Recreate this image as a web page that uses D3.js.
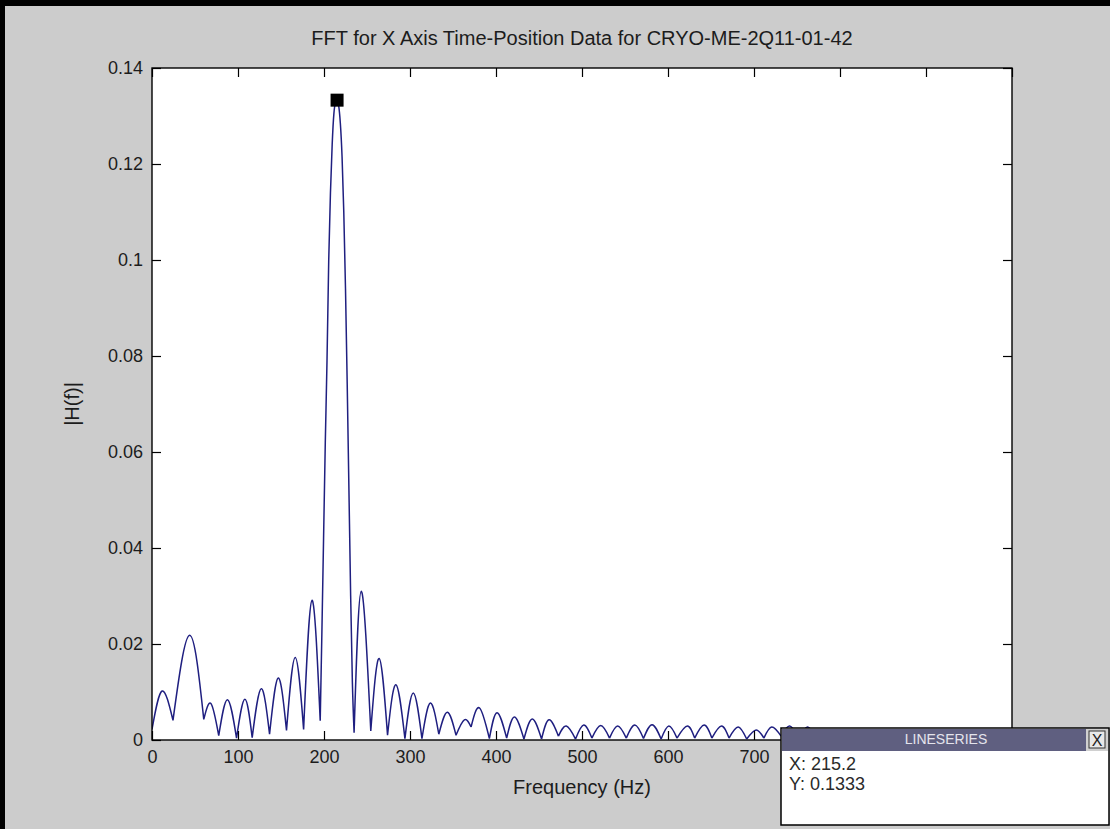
<!DOCTYPE html>
<html>
<head>
<meta charset="utf-8">
<script src="https://cdn.jsdelivr.net/npm/d3@7/dist/d3.min.js"></script>
<style>
  html, body { margin: 0; padding: 0; background: #cccccc; overflow: hidden; }
  svg { display: block; }
  text { font-family: "Liberation Sans", Arial, Helvetica, sans-serif; }
</style>
</head>
<body>
<svg id="fig" width="1110" height="829"></svg>
<script>
// Spectrum magnitude |H(f)| — local extrema of each lobe plus the main lobe outline
const freqHz = [
  0, 11.7, 24.4, 43.8, 60.2, 68.5, 77.6, 87.8, 98.3, 108.0,
  116.5, 127.0, 136.7, 146.8, 156.4, 166.5, 176.3, 186.0, 195.6,
  197.5, 199.5, 201.5, 203.5, 205.5, 207.5, 209.5, 211.5, 213.5, 215.2,
  217.0, 219.0, 221.0, 223.0, 225.0, 227.0, 229.0, 231.0, 233.0, 235.0,
  243.3, 254.4, 264.1, 273.9, 283.6, 294.1, 303.8, 313.9, 323.6, 333.5,
  343.5, 353.5, 363.2, 371.0, 380.7, 392.3, 401.2, 412.4, 421.5, 432.5,
  442.2, 453.0, 461.6, 472.6, 481.7, 492.5, 502.0, 511.5, 521.8, 532.0,
  541.5, 551.5, 561.5, 571.5, 581.5, 592.0, 601.0, 610.5, 622.5, 631.0,
  642.0, 651.0, 662.2, 671.0, 681.6, 691.5, 702.5, 711.5, 720.6, 731.5,
  741.5, 752.0, 762.3, 772.0, 781.5, 791.5, 801.5, 811.5, 821.0, 831.0,
  841.0, 851.0, 860.5, 870.5, 880.5, 890.5, 900.0, 910.0, 920.0, 930.0,
  939.5, 949.5, 959.5, 969.5, 979.0, 989.0, 998.0
];
const magnitude = [
  0.0022, 0.0102, 0.0041, 0.0218, 0.0043, 0.0076, 0.0009, 0.0084, 0.0004, 0.0085,
  0.0005, 0.0107, 0.0012, 0.0129, 0.0020, 0.0172, 0.0022, 0.0291, 0.0040,
  0.0220, 0.0420, 0.0620, 0.0790, 0.1000, 0.1140, 0.1240, 0.1305, 0.1330, 0.1333,
  0.1322, 0.1285, 0.1215, 0.1100, 0.0940, 0.0740, 0.0520, 0.0300, 0.0120, 0.0015,
  0.0310, 0.0019, 0.0170, 0.0010, 0.0115, 0.0003, 0.0098, 0.0003, 0.0077, 0.0012,
  0.0058, 0.0010, 0.0042, 0.0027, 0.0067, 0.0003, 0.0057, 0.0004, 0.0048, 0.0002,
  0.0044, 0.0002, 0.0042, 0.0008, 0.0029, 0.0002, 0.0031, 0.0004, 0.0030, 0.0004,
  0.0029, 0.0004, 0.0031, 0.0003, 0.0032, 0.0002, 0.0029, 0.0004, 0.0029, 0.0004,
  0.0031, 0.0004, 0.0029, 0.0004, 0.0027, 0.0002, 0.0021, 0.0004, 0.0027, 0.0008,
  0.0029, 0.0004, 0.0027, 0.0005, 0.0021, 0.0004, 0.0020, 0.0003, 0.0019, 0.0003,
  0.0018, 0.0003, 0.0018, 0.0003, 0.0017, 0.0003, 0.0016, 0.0003, 0.0016, 0.0003,
  0.0015, 0.0003, 0.0015, 0.0003, 0.0014, 0.0003, 0.0013
];

// x ticks run to 1000 Hz; the last three sit under the data cursor panel and carry no label
const xTickValues = [0, 100, 200, 300, 400, 500, 600, 700, 800, 900, 1000];
const xTickLabels = ["0", "100", "200", "300", "400", "500", "600", "700", "", "", ""];
const yTickValues = [0, 0.02, 0.04, 0.06, 0.08, 0.1, 0.12, 0.14];
const yTickLabels = ["0", "0.02", "0.04", "0.06", "0.08", "0.1", "0.12", "0.14"];

const chartTitle = "FFT for X Axis Time-Position Data for CRYO-ME-2Q11-01-42";
const xAxisLabel = "Frequency (Hz)";
const yAxisLabel = "|H(f)|";
const tipHeader = "LINESERIES";

// ---- layout ----
const W = 1110, H = 829;
const plot = { left: 152, top: 68, right: 1012, bottom: 740 };
const textColor = "#1c1c1c";
const lineColor = "#1f1f80";

const svg = d3.select("#fig");

// figure background and window frame edges
svg.append("rect").attr("width", W).attr("height", H).attr("fill", "#cccccc");
svg.append("rect").attr("x", 0).attr("y", 0).attr("width", W).attr("height", 6).attr("fill", "#000");
svg.append("rect").attr("x", 0).attr("y", 0).attr("width", 5).attr("height", H).attr("fill", "#000");

const x = d3.scaleLinear().domain([0, 1000]).range([plot.left, plot.right]);
const y = d3.scaleLinear().domain([0, 0.14]).range([plot.bottom, plot.top]);

// axes background
svg.append("rect")
  .attr("x", plot.left).attr("y", plot.top)
  .attr("width", plot.right - plot.left).attr("height", plot.bottom - plot.top)
  .attr("fill", "#ffffff");

svg.append("clipPath").attr("id", "plotClip")
  .append("rect")
  .attr("x", plot.left).attr("y", plot.top)
  .attr("width", plot.right - plot.left).attr("height", plot.bottom - plot.top);

// ---- spectrum line: split at troughs, each lobe drawn as a smooth arc ----
const pts = freqHz.map((f, i) => [f, magnitude[i]]);
const cuts = [0];
for (let i = 1; i < pts.length - 1; i++) {
  if (pts[i][1] < pts[i - 1][1] && pts[i][1] < pts[i + 1][1]) cuts.push(i);
}
cuts.push(pts.length - 1);
const lobes = [];
for (let k = 0; k < cuts.length - 1; k++) lobes.push(pts.slice(cuts[k], cuts[k + 1] + 1));

const lineGen = d3.line()
  .x(d => x(d[0]))
  .y(d => y(d[1]))
  .curve(d3.curveNatural);

svg.append("g").attr("clip-path", "url(#plotClip)")
  .append("path")
  .attr("d", lobes.map(l => lineGen(l)).join(""))
  .attr("fill", "none")
  .attr("stroke", lineColor)
  .attr("stroke-width", 1.5)
  .attr("stroke-linejoin", "round");

// ---- axes: ticks point inward on all four sides ----
const fmtX = d => xTickLabels[xTickValues.indexOf(d)];
const fmtY = d => yTickLabels[yTickValues.indexOf(d)];

function styleAxis(g) {
  g.select(".domain").remove();
  g.selectAll(".tick line").attr("stroke", "#000").attr("stroke-width", 1.2);
  g.selectAll(".tick text").attr("fill", textColor).style("font-size", "18px");
  g.selectAll(".tick text").filter(function () { return this.textContent === ""; }).remove();
}

svg.append("g")
  .attr("transform", `translate(0,${plot.bottom})`)
  .call(d3.axisBottom(x).tickValues(xTickValues).tickFormat(fmtX).tickSizeInner(-9).tickSizeOuter(0).tickPadding(10))
  .call(styleAxis);

svg.append("g")
  .attr("transform", `translate(0,${plot.top})`)
  .call(d3.axisTop(x).tickValues(xTickValues).tickFormat(() => "").tickSizeInner(-9).tickSizeOuter(0))
  .call(styleAxis);

svg.append("g")
  .attr("transform", `translate(${plot.left},0)`)
  .call(d3.axisLeft(y).tickValues(yTickValues).tickFormat(fmtY).tickSizeInner(-9).tickSizeOuter(0).tickPadding(9))
  .call(styleAxis);

svg.append("g")
  .attr("transform", `translate(${plot.right},0)`)
  .call(d3.axisRight(y).tickValues(yTickValues).tickFormat(() => "").tickSizeInner(-9).tickSizeOuter(0))
  .call(styleAxis);

// axes frame
svg.append("rect")
  .attr("x", plot.left).attr("y", plot.top)
  .attr("width", plot.right - plot.left).attr("height", plot.bottom - plot.top)
  .attr("fill", "none").attr("stroke", "#000").attr("stroke-width", 1.4);

// ---- titles ----
svg.append("text")
  .attr("x", (plot.left + plot.right) / 2).attr("y", 45)
  .attr("text-anchor", "middle").attr("fill", textColor)
  .style("font-size", "20px")
  .text(chartTitle);

svg.append("text")
  .attr("x", (plot.left + plot.right) / 2).attr("y", 794)
  .attr("text-anchor", "middle").attr("fill", textColor)
  .style("font-size", "20px")
  .text(xAxisLabel);

svg.append("text")
  .attr("transform", `translate(79,${(plot.top + plot.bottom) / 2}) rotate(-90)`)
  .attr("text-anchor", "middle").attr("fill", textColor)
  .style("font-size", "20px")
  .text(yAxisLabel);

// ---- data cursor on the spectral peak ----
const peakIdx = d3.maxIndex(magnitude);
const peakF = freqHz[peakIdx], peakM = magnitude[peakIdx];
const mk = 13;
svg.append("rect")
  .attr("x", x(peakF) - mk / 2).attr("y", y(peakM) - mk / 2)
  .attr("width", mk).attr("height", mk)
  .attr("fill", "#000");

const tip = { x: 781, y: 728, w: 328, h: 97, head: 22 };
const tg = svg.append("g");
tg.append("rect")
  .attr("x", tip.x).attr("y", tip.y).attr("width", tip.w).attr("height", tip.h)
  .attr("fill", "#ffffff").attr("stroke", "#000").attr("stroke-width", 1.5);
tg.append("rect")
  .attr("x", tip.x + 1).attr("y", tip.y + 1).attr("width", tip.w - 24).attr("height", tip.head)
  .attr("fill", "#5f5f80");
tg.append("rect")
  .attr("x", tip.x + tip.w - 23).attr("y", tip.y + 1).attr("width", 22).attr("height", tip.head)
  .attr("fill", "#d0d0d0");
tg.append("rect")
  .attr("x", tip.x + tip.w - 20).attr("y", tip.y + 3).attr("width", 16).attr("height", 17)
  .attr("fill", "#e8e8e8").attr("stroke", "#333").attr("stroke-width", 1);
tg.append("text")
  .attr("x", tip.x + tip.w - 12).attr("y", tip.y + 18)
  .attr("text-anchor", "middle").attr("fill", "#222")
  .style("font-size", "16px")
  .text("X");
tg.append("text")
  .attr("x", 946).attr("y", tip.y + 16)
  .attr("text-anchor", "middle").attr("fill", "#e4e4ec")
  .style("font-size", "14px")
  .text(tipHeader);
tg.append("text")
  .attr("x", tip.x + 8).attr("y", tip.y + 42)
  .attr("fill", "#2a2a2a").style("font-size", "18px")
  .text("X: " + d3.format(".1f")(peakF));
tg.append("text")
  .attr("x", tip.x + 8).attr("y", tip.y + 62)
  .attr("fill", "#2a2a2a").style("font-size", "18px")
  .text("Y: " + d3.format(".4f")(peakM));
</script>
</body>
</html>
